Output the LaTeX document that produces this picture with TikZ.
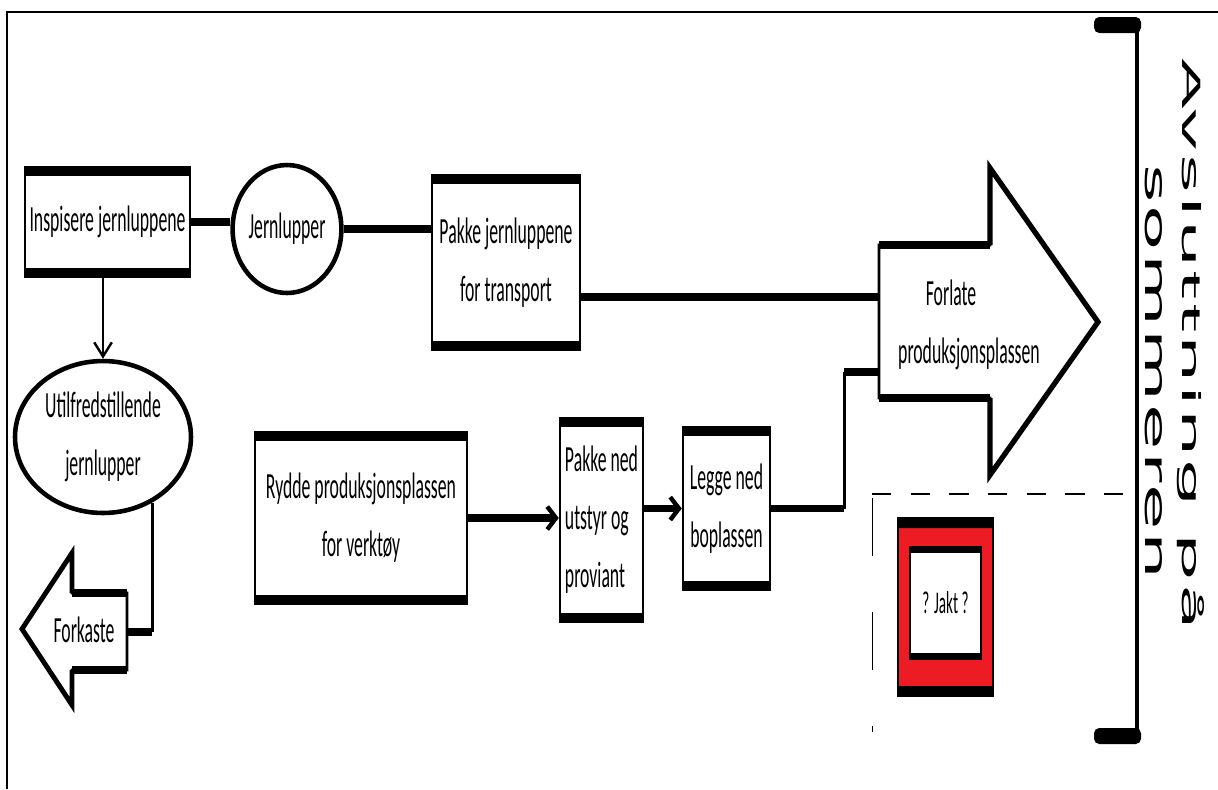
\documentclass[tikz,border=0pt]{standalone}
\usepackage{fontspec}
\usetikzlibrary{shapes.geometric,arrows.meta}
\newfontfamily\boxfont[FakeStretch=0.48]{Carlito}
\newfontfamily\sidefont[LetterSpace=4]{DejaVu Sans}
\definecolor{jaktred}{HTML}{ED1C24}
\tikzset{
    flowbox/.style={draw, line width=1.4pt, fill=white, inner sep=0pt, align=center,
        font=\boxfont\fontsize{21}{33}\selectfont,
        path picture={
            % thick top and bottom edges
            \fill[black] (path picture bounding box.north west) rectangle ([yshift=-#1]path picture bounding box.north east);
            \fill[black] (path picture bounding box.south west) rectangle ([yshift=#1]path picture bounding box.south east);
        }},
    flowbox/.default=0.18cm,
    oval/.style={ellipse, draw, line width=2.6pt, fill=white, inner sep=0pt, align=center,
        font=\boxfont\fontsize{21}{33}\selectfont},
    arrowtext/.style={inner sep=0pt, align=center, font=\boxfont\fontsize{21}{33}\selectfont},
    sidetext/.style={rotate=-90, inner sep=0pt, align=center, font=\sidefont\fontsize{10}{21}\selectfont},
    conn/.style={line width=4.2pt},
    thinconn/.style={line width=1.6pt},
    barb/.style={-{Straight Barb[length=5pt,width=13pt,line width=2.5pt]}}
}
\begin{document}
\begin{tikzpicture}[x=0.02cm,y=-0.02cm]
    \useasboundingbox (0,0) rectangle (1218,789);
    % frame
    \draw[line width=1.2pt] (7,789) -- (7,12) -- (1218,12);
    % steps
    \node[flowbox, minimum width=3.3cm, minimum height=2.2cm] (insp) at (107.5,222) {Inspisere jernluppene};
    \node[oval, minimum width=2.12cm, minimum height=2.56cm] (jern) at (287,229) {Jernlupper};
    \node[flowbox, minimum width=2.96cm, minimum height=3.5cm] (pakketr) at (506,262.5) {Pakke jernluppene\\for transport};
    \node[oval, minimum width=3.52cm, minimum height=3.04cm] (utilf) at (103,437) {Utilfredstillende\\jernlupper};
    \node[flowbox, minimum width=4.24cm, minimum height=3.44cm] (rydde) at (361,518) {Rydde produksjonsplassen\\for verktøy};
    \node[flowbox, align=left, minimum width=1.66cm, minimum height=4.08cm] (pakkened) at (601.5,520) {Pakke ned\\utstyr og\\proviant};
    \node[flowbox, minimum width=1.74cm, minimum height=3.26cm] (legge) at (726.5,508.5) {Legge ned\\boplassen};

    % Forkaste arrow
    \filldraw[fill=white, line width=1.6pt] (127,593) -- (72,593) -- (72,553) -- (22,629) -- (72,705) -- (72,670) -- (127,670) -- cycle;
    \draw[line width=2.8pt] (72,593) -- (72,553) -- (22,629) -- (72,705) -- (72,670);
    \draw[line width=4.5pt] (72,593) -- (127,593) (72,670) -- (127,670);
    \node[arrowtext] (forkaste) at (84,630) {Forkaste};
    \coordinate (fkin) at (127,632);

    % Forlate arrow
    \filldraw[fill=white, line width=1.6pt] (879,245) -- (990,245) -- (990,168) -- (1098,322) -- (990,475) -- (990,398) -- (879,398) -- cycle;
    \draw[line width=3pt] (990,245) -- (990,168) -- (1098,322) -- (990,475) -- (990,398);
    \draw[line width=4.5pt] (879,245) -- (990,245) (879,398) -- (990,398);
    \node[arrowtext] (forlate) at (969,325) {Forlate\hspace*{0.72cm}\\produksjonsplassen};
    \coordinate (flin1) at (880,297);
    \coordinate (flin2) at (880,372);

    % connectors
    \draw[conn] (insp.east) -- (insp.east -| jern.west);
    \draw[conn] (jern.east) -- (jern.east -| pakketr.west);
    \draw[conn] (pakketr.east |- flin1) -- (flin1);
    \draw[thinconn, -{Straight Barb[length=8pt,width=10pt,line width=1.4pt]}] (insp.south -| utilf.north) -- (utilf.north);
    \draw[thinconn] (utilf.-53) -- (utilf.-53 |- fkin);
    \draw[conn] (utilf.-53 |- fkin) -- (fkin);
    \draw[conn, barb] (rydde.east) -- (rydde.east -| pakkened.west);
    \draw[conn, barb] (legge.west -| pakkened.east) -- (legge.west);
    \draw[conn] (legge.east) -- ++(73,0) coordinate (lgturn);
    \draw[thinconn] (lgturn) -- (lgturn |- flin2);
    \draw[conn] (lgturn |- flin2) -- (flin2);

    % hunting area
    \draw[line width=0.8pt, dash pattern=on 11pt off 11pt] (872,494) -- (1128,494);
    \draw[line width=0.5pt, dash pattern=on 33pt off 32pt] (872,498) -- (872,732);
    \filldraw[fill=jaktred, line width=1.6pt] (898,518) rectangle (993,696);
    \fill (898,518) rectangle (993,528) (898,686) rectangle (993,696);
    \node[flowbox=0.12cm, line width=1.2pt, minimum width=1.42cm, minimum height=2.24cm,
        font=\boxfont\fontsize{18}{28}\selectfont] (jakt) at (945.5,603) {? Jakt ?};

    % bracket
    \draw[line width=2.8pt] (1137,25) -- (1137,736);
    \fill[rounded corners=3pt] (1094,17) rectangle (1141,33);
    \fill[rounded corners=3pt] (1094,728) rectangle (1141,744);
    \node[sidetext] (avslutt) at (1174.5,344) {\resizebox{11.44cm}{0.44cm}{Avsluttning på}\\\hspace*{1.12cm}\resizebox{8.3cm}{0.34cm}{sommeren}};
\end{tikzpicture}
\end{document}
